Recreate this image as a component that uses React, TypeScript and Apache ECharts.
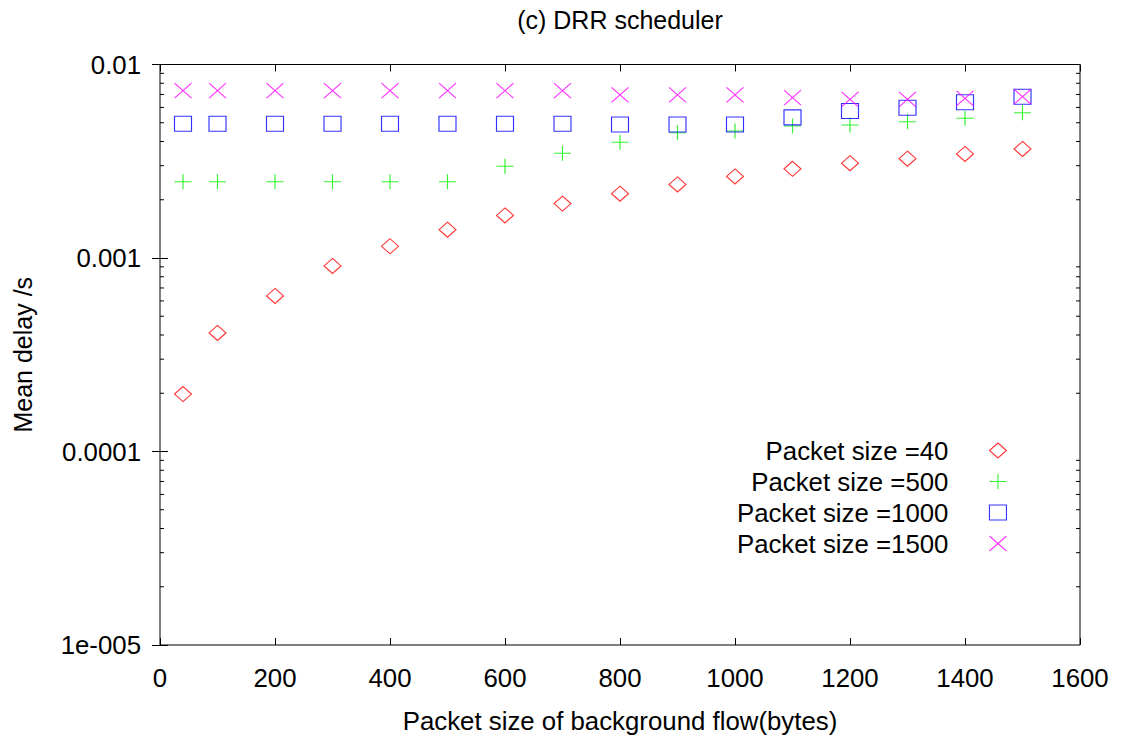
import React, { useEffect, useRef } from "react";
import * as echarts from "echarts";

// Background-flow packet sizes (bytes) on the x axis
const packetSizes = [40, 100, 200, 300, 400, 500, 600, 700, 800, 900, 1000, 1100, 1200, 1300, 1400, 1500];

// Mean delay (s) for each foreground packet size
const delay40 = [0.000198, 0.00041, 0.000637, 0.00091, 0.00115, 0.0014, 0.00166, 0.00191, 0.00215, 0.0024, 0.00264, 0.00289, 0.00309, 0.00326, 0.00345, 0.00366];
const delay500 = [0.00248, 0.00248, 0.00248, 0.00248, 0.00248, 0.00248, 0.00298, 0.00348, 0.00396, 0.00444, 0.00453, 0.00481, 0.00487, 0.00506, 0.00527, 0.00563];
const delay1000 = [0.00494, 0.00494, 0.00494, 0.00494, 0.00494, 0.00494, 0.00494, 0.00494, 0.0049, 0.0049, 0.0049, 0.00533, 0.00575, 0.00598, 0.00638, 0.00682];
const delay1500 = [0.00732, 0.00732, 0.00732, 0.00732, 0.00732, 0.00732, 0.00732, 0.00732, 0.00696, 0.00696, 0.00696, 0.00674, 0.0066, 0.00661, 0.00669, 0.00682];

const seriesNames = ["Packet size =40", "Packet size =500", "Packet size =1000", "Packet size =1500"];
const seriesColors = ["#ff0000", "#00f000", "#0000ff", "#ff00ff"];
const seriesSymbols = [
  "path://M0,-7.5L8.5,0L0,7.5L-8.5,0Z",
  "path://M0,-7.5L0,7.5M-8.5,0L8.5,0",
  "path://M-8.5,-7.5L8.5,-7.5L8.5,7.5L-8.5,7.5Z",
  "path://M-8.5,-7.5L8.5,7.5M-8.5,7.5L8.5,-7.5",
];

// Axis tick labels
const yTickLabels = ["1e-005", "0.0001", "0.001", "0.01"];
const yMinExp = -5;
const yMaxExp = -2;
const xMin = 0;
const xMax = 1600;
const xInterval = 200;

const FONT = "'Liberation Sans', Arial, sans-serif";
const FONT_SIZE = 25.8;

// Minor tick positions of the log axis: 2..9 in each decade
const minorTicks: number[][] = [];
for (let e = yMinExp; e < yMaxExp; e++) {
  for (let m = 2; m <= 9; m++) minorTicks.push([xMin, m * Math.pow(10, e)]);
}

export default function App() {
  const ref = useRef<HTMLDivElement>(null);

  useEffect(() => {
    if (!ref.current) return;
    const chart = echarts.init(ref.current, null, { renderer: "svg" });
    const allSeries = [delay40, delay500, delay1000, delay1500];

    const scatterSeries = allSeries.map((vals, i) => ({
      name: seriesNames[i],
      type: "scatter",
      xAxisIndex: 0,
      yAxisIndex: 0,
      data: packetSizes.map((x, j) => [x, vals[j]]),
      symbol: seriesSymbols[i],
      symbolSize: [17, 15],
      itemStyle: { color: "transparent", borderColor: seriesColors[i], borderWidth: 1.1 },
      emphasis: { disabled: true },
      silent: true,
      z: 3,
    }));

    const axisTextStyle = { color: "#000", fontSize: FONT_SIZE, fontFamily: FONT };

    chart.setOption({
      animation: false,
      backgroundColor: "#fff",
      textStyle: { fontFamily: FONT },
      graphic: [
        {
          type: "text",
          x: 620,
          y: 20,
          style: {
            text: "(c) DRR scheduler",
            fill: "#000",
            fontSize: 25,
            fontFamily: FONT,
            align: "center",
            verticalAlign: "middle",
          },
        },
      ],
      grid: {
        left: 160,
        right: 42,
        top: 64.5,
        bottom: 97,
        show: true,
        borderColor: "#000",
        borderWidth: 1,
        backgroundColor: "transparent",
      },
      legend: {
        data: seriesNames,
        orient: "vertical",
        align: "right",
        right: 115,
        top: 435,
        padding: 0,
        itemGap: 0,
        itemWidth: 17,
        itemHeight: 15,
        selectedMode: false,
        itemStyle: { borderWidth: 1.1 },
        textStyle: {
          color: "#000",
          fontSize: FONT_SIZE,
          fontFamily: FONT,
          lineHeight: 31,
          padding: [0, 36, 0, 0],
        },
      },
      xAxis: [
        {
          type: "value",
          min: xMin,
          max: xMax,
          interval: xInterval,
          name: "Packet size of background flow(bytes)",
          nameLocation: "middle",
          nameGap: 63,
          nameTextStyle: axisTextStyle,
          axisLine: { show: false },
          axisTick: { show: true, inside: true, length: 7, lineStyle: { color: "#000" } },
          axisLabel: { ...axisTextStyle, margin: 20, formatter: (v: number) => String(v) },
          splitLine: { show: false },
        },
        {
          type: "value",
          position: "top",
          min: xMin,
          max: xMax,
          interval: xInterval,
          axisLine: { show: false },
          axisTick: { show: true, inside: true, length: 7, lineStyle: { color: "#000" } },
          axisLabel: { show: false },
          splitLine: { show: false },
        },
      ],
      yAxis: [
        {
          type: "log",
          logBase: 10,
          min: Math.pow(10, yMinExp),
          max: Math.pow(10, yMaxExp),
          name: "Mean delay /s",
          nameLocation: "middle",
          nameGap: 125,
          nameTextStyle: { ...axisTextStyle, fontSize: 25 },
          axisLine: { show: false },
          axisTick: { show: true, inside: true, length: 8, lineStyle: { color: "#000" } },
          axisLabel: {
            ...axisTextStyle,
            margin: 19,
            formatter: (v: number) => {
              const idx = Math.round(Math.log10(v)) - yMinExp;
              return yTickLabels[idx] ?? "";
            },
          },
          splitLine: { show: false },
          minorTick: { show: false },
        },
        {
          type: "log",
          logBase: 10,
          position: "right",
          min: Math.pow(10, yMinExp),
          max: Math.pow(10, yMaxExp),
          axisLine: { show: false },
          axisTick: { show: true, inside: true, length: 8, lineStyle: { color: "#000" } },
          axisLabel: { show: false },
          splitLine: { show: false },
        },
      ],
      series: [
        ...scatterSeries,
        {
          name: "minor ticks",
          type: "custom",
          xAxisIndex: 0,
          yAxisIndex: 0,
          silent: true,
          z: 2,
          data: minorTicks,
          encode: { x: 0, y: 1 },
          renderItem: (_params: any, api: any) => {
            const v = api.value(1);
            const pL = api.coord([xMin, v]);
            const pR = api.coord([xMax, v]);
            const style = { stroke: "#000", lineWidth: 1 };
            return {
              type: "group",
              children: [
                { type: "line", shape: { x1: pL[0], y1: pL[1], x2: pL[0] + 4, y2: pL[1] }, style },
                { type: "line", shape: { x1: pR[0] - 4, y1: pR[1], x2: pR[0], y2: pR[1] }, style },
              ],
            };
          },
        },
      ],
    });

    return () => chart.dispose();
  }, []);

  return (
    <div
      ref={ref}
      style={{ position: "absolute", left: 0, top: 0, width: 1122, height: 742 }}
    />
  );
}
